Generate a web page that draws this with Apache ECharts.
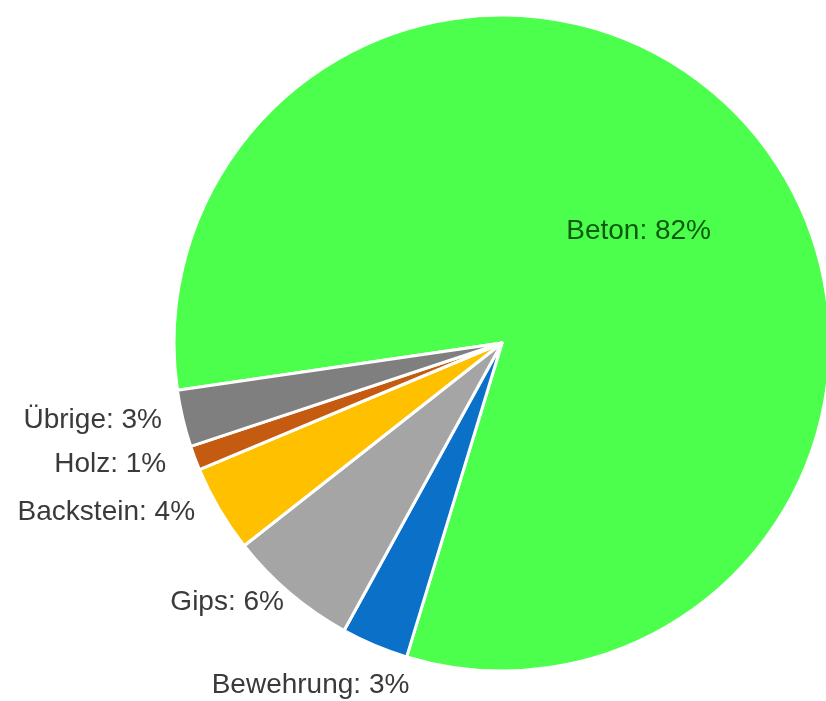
<!DOCTYPE html>
<html>
<head>
<meta charset="utf-8">
<script src="https://cdn.jsdelivr.net/npm/echarts@6/dist/echarts.min.js"></script>
<style>
  html, body { margin: 0; padding: 0; background: #fff; }
  #chart { width: 826px; height: 701px; }
</style>
</head>
<body>
<div id="chart"></div>
<script>
  // Anteile der Materialien (in %)
  var categories = ['Beton', 'Bewehrung', 'Gips', 'Backstein', 'Holz', 'Übrige'];
  var values = [82.0, 3.3, 6.4, 4.3, 1.2, 2.8];
  var colors = ['#4dff4d', '#0a70c8', '#a5a5a5', '#ffc000', '#c55a11', '#7f7f7f'];
  // kleine Verschiebungen der Beschriftungen (wie im Original)
  var labelShift = [[0, 0], [52, 34], [13, 5], [-4, 0], [-8, 4], [0, 0]];

  var myChart = echarts.init(document.getElementById('chart'));

  var data = [];
  for (var i = 0; i < categories.length; i++) {
    data.push({ name: categories[i], value: values[i] });
  }

  function fmt(p) {
    return p.name + ': ' + Math.round(p.value) + '%';
  }

  var option = {
    animation: false,
    color: colors,
    series: [
      {
        type: 'pie',
        center: [502, 343],
        radius: [0, 328],
        startAngle: 188.3,
        clockwise: true,
        avoidLabelOverlap: false,
        itemStyle: { borderColor: '#fff', borderWidth: 3 },
        label: {
          show: true,
          position: 'outside',
          formatter: function (p) { return p.dataIndex === 0 ? '' : fmt(p); },
          fontFamily: 'Liberation Sans',
          fontSize: 28,
          color: '#3a3a3a'
        },
        labelLine: { show: false, length: 6, length2: 10 },
        labelLayout: function (p) {
          var s = labelShift[p.dataIndex];
          return { dx: s[0], dy: s[1] };
        },
        data: data
      },
      {
        // nur Beschriftung innen für Beton
        type: 'pie',
        center: [502, 343],
        radius: [0, 328],
        startAngle: 188.3,
        clockwise: true,
        silent: true,
        itemStyle: { color: 'transparent' },
        label: {
          show: true,
          position: 'inside',
          formatter: function (p) { return p.dataIndex === 0 ? fmt(p) : ''; },
          fontFamily: 'Liberation Sans',
          fontSize: 28,
          color: '#0b5a0e'
        },
        labelLine: { show: false },
        labelLayout: function (p) {
          return p.dataIndex === 0 ? { dx: 10, dy: -3 } : {};
        },
        data: data
      }
    ]
  };
  myChart.setOption(option);
</script>
</body>
</html>
